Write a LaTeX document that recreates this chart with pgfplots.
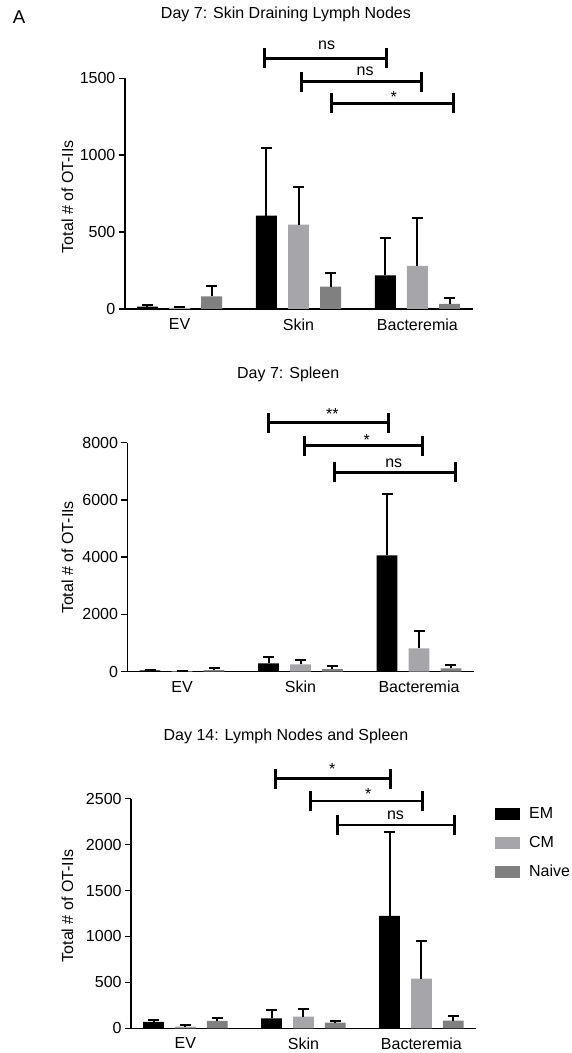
\documentclass[border=0pt]{standalone}
\usepackage{fontspec}
\setmainfont{Liberation Sans}
\usepackage{pgfplots}
\pgfplotsset{compat=1.18}
\definecolor{cEM}{RGB}{0,0,0}
\definecolor{cCM}{RGB}{166,166,170}
\definecolor{cNV}{RGB}{128,128,128}
\newcommand{\fs}{\fontsize{16}{19}\selectfont}
\newcommand{\sigbar}[6]{%
  \draw[line width=2.8pt] (axis cs:#1,#3) -- (axis cs:#2,#3);
  \draw[line width=3pt] ([yshift=-10pt]axis cs:#1,#3) -- ([yshift=10pt]axis cs:#1,#3);
  \draw[line width=3pt] ([yshift=-10pt]axis cs:#2,#3) -- ([yshift=10pt]axis cs:#2,#3);
  \node[anchor=base, inner sep=0pt, font=\fs] at ([yshift=#6]axis cs:#5,#3) {#4};
}
\pgfplotsset{
  panel/.style={
    scale only axis, clip=false,
    anchor=south west,
    xmin=-0.46, xmax=2.465, ymin=0,
    axis x line*=bottom, axis y line*=left,
    axis line style={line width=1.5pt},
    xtick={0,1,2}, xticklabels={EV,Skin,Bacteremia},
    x tick style={draw=none},
    tick align=outside, major tick length=6pt,
    y tick style={line width=1.5pt, black},
    tick label style={font=\fs},
    /pgf/number format/assume math mode=true,
    /pgf/number format/1000 sep={},
    scaled y ticks=false,
    label style={font=\fs},
    title style={font=\fs, anchor=base, inner sep=0pt},
    ylabel={Total \# of OT-IIs},
  },
  bars/.style={ybar, bar shift=0pt, bar width=0.176, draw=none, fill=#1,
    error bars/y dir=plus, error bars/y explicit,
    error bars/error bar style={line width=2pt, black},
    error bars/error mark options={rotate=90, line width=2pt, black, mark size=5.5pt}},
}
\begin{document}
\begin{tikzpicture}
\useasboundingbox (0pt,0pt) rectangle (571pt,1053pt);
\node[anchor=center, inner sep=0pt, font=\fontsize{18.6}{22}\selectfont] at (19.1pt,1036.3pt) {A};

% ---------- Top panel ----------
\begin{axis}[panel,
  at={(124.9pt,744pt)}, width=347.8pt, height=230.7pt,
  ymax=1500, ytick={0,500,1000,1500},
  title={Day 7: Skin Draining Lymph Nodes},
  title style={at={(axis description cs:0.463,1.234)}},
  ylabel style={at={(axis description cs:-0.1653,0.487)}, anchor=center},
]
\addplot[bars=cEM] coordinates {(-0.27,15) +- (0,8) (0.73,607) +- (0,442) (1.73,219) +- (0,241)};
\addplot[bars=cCM] coordinates {(0,8) +- (0,3) (1,548) +- (0,247) (2,280) +- (0,310)};
\addplot[bars=cNV] coordinates {(0.27,82) +- (0,70) (1.27,145) +- (0,87) (2.27,33) +- (0,40)};
\sigbar{0.717}{1.74}{1630}{ns}{1.236}{9pt}
\sigbar{1.026}{2.034}{1478}{ns}{1.56}{6.5pt}
\sigbar{1.278}{2.30}{1337}{*}{1.80}{0.5pt}
\end{axis}

% ---------- Middle panel ----------
\begin{axis}[panel,
  at={(127.5pt,381.3pt)}, width=346.6pt, height=229pt,
  ymax=8000, ytick={0,2000,4000,6000,8000},
  title={Day 7: Spleen},
  title style={at={(axis description cs:0.4636,1.2563)}},
  ylabel style={at={(axis description cs:-0.1734,0.4987)}, anchor=center},
]
\addplot[bars=cEM] coordinates {(-0.27,47) +- (0,12) (0.73,291) +- (0,233) (1.73,4064) +- (0,2154)};
\addplot[bars=cCM] coordinates {(0,22) +- (0,6) (1,256) +- (0,152) (2,815) +- (0,605)};
\addplot[bars=cNV] coordinates {(0.27,58) +- (0,58) (1.27,93) +- (0,93) (2.27,116) +- (0,117)};
\sigbar{0.728}{1.744}{8699}{**}{1.268}{3.4pt}
\sigbar{1.032}{2.033}{7895}{*}{1.56}{0.5pt}
\sigbar{1.284}{2.312}{6966}{ns}{1.787}{5pt}
\end{axis}

% ---------- Bottom panel ----------
\begin{axis}[panel,
  at={(131.1pt,24.7pt)}, width=345.2pt, height=229.6pt,
  ymax=2500, ytick={0,500,1000,1500,2000,2500},
  title={Day 14: Lymph Nodes and Spleen},
  title style={at={(axis description cs:0.4487,1.2265)}},
  ylabel style={at={(axis description cs:-0.1845,0.5335)}, anchor=center},
  legend style={draw=none, fill=none, inner sep=0pt, row sep=12pt, font=\fs,
    at={(axis description cs:1.054,0.97)}, anchor=north west},
  legend cell align=left,
  legend image code/.code={\fill[#1] (0pt,-6pt) rectangle (25pt,6pt); \path (32pt,0pt);},
]
\addplot[bars=cEM] coordinates {(-0.27,69) +- (0,22) (0.73,109) +- (0,91) (1.73,1223) +- (0,911)};
\addlegendentry{EM}
\addplot[bars=cCM] coordinates {(0,18) +- (0,15) (1,127) +- (0,87) (2,541) +- (0,406)};
\addlegendentry{CM}
\addplot[bars=cNV] coordinates {(0.27,80) +- (0,36) (1.27,62) +- (0,21) (2.27,83) +- (0,55)};
\addlegendentry{Naive}
\sigbar{0.764}{1.736}{2718}{*}{1.245}{4.5pt}
\sigbar{1.057}{2.007}{2475}{*}{1.55}{1pt}
\sigbar{1.291}{2.284}{2214}{ns}{1.78}{5pt}
\end{axis}
\end{tikzpicture}
\end{document}
